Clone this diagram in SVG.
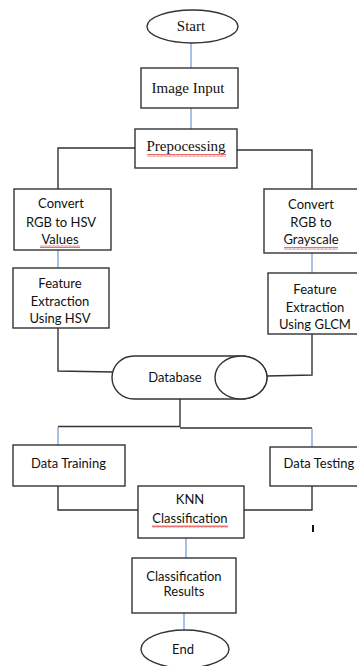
<svg xmlns="http://www.w3.org/2000/svg" width="357" height="666" viewBox="0 0 357 666">
<defs>
<pattern id="squig" x="0" y="0" width="4" height="3" patternUnits="userSpaceOnUse">
<path d="M0,2.5 L1,0.5 L2,2.5 L3,0.5 L4,2.5" fill="none" stroke="#e03030" stroke-width="0.7"/>
</pattern>
</defs>
<style>
.box{fill:#fff;stroke:#333;stroke-width:1.4}
.blk{fill:none;stroke:#333;stroke-width:1.4}
.blu{fill:none;stroke:#5b8fd0;stroke-width:1.1}
.serif{font-family:"Liberation Serif","Times New Roman",serif;font-size:15px;fill:#111;text-anchor:middle}
.sans{font-family:Lato,"Liberation Sans",sans-serif;font-size:13px;fill:#111;text-anchor:middle}
.sq{fill:url(#squig)}
</style>
<rect width="357" height="666" fill="#fff"/>
<g id="connectors">
<polyline class="blk" points="135,148 58,148 58,189"/>
<polyline class="blk" points="237,150 312,150 312,189"/>
<polyline class="blk" points="58,328 58,371 113,372"/>
<polyline class="blk" points="312,334 312,375 267,376"/>
<polyline class="blk" points="180,399 180,427"/>
<line class="blk" x1="58" y1="426.5" x2="180" y2="426.5"/>
<line class="blk" x1="180" y1="428" x2="312" y2="428"/>
<polyline class="blk" points="58,486 58,510 138,510"/>
<polyline class="blk" points="312,486 312,510 244,510"/>
<line class="blu" x1="191" y1="43" x2="191" y2="68"/>
<line class="blu" x1="191" y1="108" x2="191" y2="129"/>
<line class="blu" x1="58" y1="250" x2="58" y2="268"/>
<line class="blu" x1="312" y1="253" x2="312" y2="273"/>
<line class="blu" x1="58" y1="427" x2="58" y2="445"/>
<line class="blu" x1="312" y1="428.5" x2="312" y2="447"/>
<line class="blu" x1="186" y1="538" x2="186" y2="558"/>
<line class="blu" x1="184" y1="613" x2="184" y2="630"/>
</g>
<g id="start">
<ellipse class="box" cx="192.5" cy="26.5" rx="45.5" ry="16.5"/>
<text class="serif" x="191" y="31">Start</text>
</g>
<g id="image-input">
<rect class="box" x="141" y="68" width="97" height="40"/>
<text class="serif" x="188" y="93">Image Input</text>
</g>
<g id="preprocessing">
<rect class="box" x="135" y="129" width="102" height="39"/>
<text class="serif" x="186" y="151">Prepocessing</text>
<rect class="sq" x="147" y="154" width="79" height="3"/>
</g>
<g id="rgb-hsv">
<rect class="box" x="14" y="189" width="97" height="61"/>
<text class="sans" x="61" y="208">Convert</text>
<text class="sans" x="61" y="227">RGB to HSV</text>
<text class="sans" x="60" y="244">Values</text>
<rect class="sq" x="40" y="245" width="40" height="3"/>
</g>
<g id="feat-hsv">
<rect class="box" x="13" y="268" width="96" height="60"/>
<text class="sans" x="60" y="288">Feature</text>
<text class="sans" x="60" y="306">Extraction</text>
<text class="sans" x="60" y="323">Using HSV</text>
</g>
<g id="rgb-gray">
<rect class="box" x="264" y="189" width="96" height="64"/>
<text class="sans" x="311" y="209">Convert</text>
<text class="sans" x="311" y="227">RGB to</text>
<text class="sans" x="311" y="244">Grayscale</text>
<rect class="sq" x="284" y="247" width="54" height="3"/>
</g>
<g id="feat-glcm">
<rect class="box" x="268" y="273" width="92" height="61"/>
<text class="sans" x="315" y="294">Feature</text>
<text class="sans" x="315" y="312">Extraction</text>
<text class="sans" x="315" y="329">Using GLCM</text>
</g>
<g id="database">
<path class="box" d="M134,356 L241,356 A26,21.5 0 0 1 241,399 L134,399 A22,21.5 0 0 1 134,356 Z"/>
<ellipse class="box" cx="241" cy="377.5" rx="26" ry="21.5"/>
<text class="sans" x="175" y="382">Database</text>
</g>
<g id="data-training">
<rect class="box" x="13" y="445" width="112" height="41"/>
<text class="sans" x="68.5" y="468">Data Training</text>
</g>
<g id="data-testing">
<rect class="box" x="270" y="447" width="90" height="39"/>
<text class="sans" x="319" y="468">Data Testing</text>
</g>
<g id="knn">
<rect class="box" x="138" y="486" width="106" height="52"/>
<text class="sans" x="190" y="504">KNN</text>
<text class="sans" x="190" y="523">Classification</text>
<rect class="sq" x="152" y="525" width="76" height="3"/>
</g>
<g id="results">
<rect class="box" x="132" y="558" width="104" height="55"/>
<text class="sans" x="184" y="581">Classification</text>
<text class="sans" x="184" y="596">Results</text>
</g>
<g id="end">
<ellipse class="box" cx="185" cy="649" rx="44" ry="19"/>
<text class="sans" x="183" y="654">End</text>
</g>
<rect x="312" y="525" width="2" height="7" fill="#111"/>
</svg>
